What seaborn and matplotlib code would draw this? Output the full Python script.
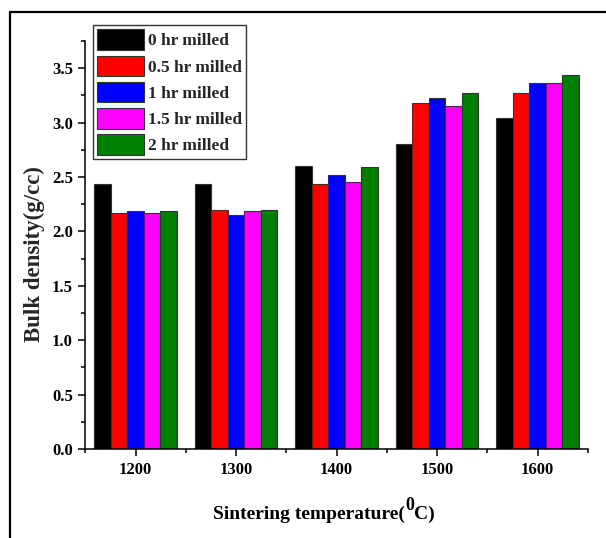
import matplotlib
matplotlib.use("Agg")
import matplotlib.pyplot as plt
from matplotlib.lines import Line2D
from matplotlib.ticker import FixedLocator
from matplotlib.offsetbox import TextArea, HPacker, VPacker, DrawingArea, AnchoredOffsetbox
import seaborn as sns
import pandas as pd

temperatures = ["1200", "1300", "1400", "1500", "1600"]
series_names = ["0 hr milled", "0.5 hr milled", "1 hr milled", "1.5 hr milled", "2 hr milled"]
mill_0 = [2.44, 2.44, 2.60, 2.80, 3.04]
mill_05 = [2.17, 2.20, 2.44, 3.18, 3.27]
mill_1 = [2.19, 2.155, 2.52, 3.23, 3.36]
mill_15 = [2.165, 2.19, 2.45, 3.155, 3.365]
mill_2 = [2.19, 2.20, 2.595, 3.27, 3.44]
colors = ["#000000", "#FF0000", "#0000FF", "#FF00FF", "#008000"]

rows = []
for name, vals in zip(series_names, [mill_0, mill_05, mill_1, mill_15, mill_2]):
    for t, v in zip(temperatures, vals):
        rows.append({"temp": t, "density": v, "series": name})
df = pd.DataFrame(rows)

sns.set_style("ticks")
plt.rcParams["font.family"] = ["Liberation Serif", "DejaVu Serif"]
plt.rcParams["font.weight"] = "bold"

fig = plt.figure(figsize=(6.06, 5.38), dpi=100)
ax = fig.add_axes([0.141, 0.1654, 0.829, 0.7584])

sns.barplot(data=df, x="temp", y="density", hue="series", order=temperatures,
            hue_order=series_names, palette=colors, saturation=1, width=0.82,
            edgecolor="#333333", linewidth=0.8, errorbar=None, ax=ax)

ax.set_xlim(-0.5, 4.5)
ax.set_ylim(0, 3.75)
ax.yaxis.set_major_locator(FixedLocator([0, 0.5, 1.0, 1.5, 2.0, 2.5, 3.0, 3.5]))
ax.yaxis.set_minor_locator(FixedLocator([0.25, 0.75, 1.25, 1.75, 2.25, 2.75, 3.25, 3.75]))
ax.set_yticklabels(["0.0", "0.5", "1.0", "1.5", "2.0", "2.5", "3.0", "3.5"])
ax.xaxis.set_minor_locator(FixedLocator([-0.5, 0.5, 1.5, 2.5, 3.5, 4.5]))

for s in ["top", "right"]:
    ax.spines[s].set_visible(False)
for s in ["left", "bottom"]:
    ax.spines[s].set_linewidth(1.1)
    ax.spines[s].set_color("black")

ax.tick_params(axis="both", which="major", length=5, width=1.1, direction="out",
               labelsize=12, colors="black", pad=4)
ax.tick_params(axis="both", which="minor", length=3, width=1.1, direction="out", colors="black")
for lbl in ax.get_xticklabels() + ax.get_yticklabels():
    lbl.set_fontweight("bold")

# x label built from pieces so the superscript stays large, as in the original
ax.set_xlabel("")
tp = dict(fontsize=14, fontweight="bold", color="black", family=["Liberation Serif", "DejaVu Serif"])
part1 = TextArea("Sintering temperature(", textprops=tp)
sup = VPacker(children=[TextArea("0", textprops=dict(tp, fontsize=13)), DrawingArea(1, 6)],
              align="center", pad=0, sep=0)
part3 = TextArea("C)", textprops=tp)
xlab = HPacker(children=[part1, sup, part3], align="bottom", pad=0, sep=0)
anch = AnchoredOffsetbox(loc="center", child=xlab, frameon=False, pad=0, borderpad=0,
                         bbox_to_anchor=(324 / 606, 1 - 510 / 538),
                         bbox_transform=fig.transFigure)
fig.add_artist(anch)

ax.set_ylabel("Bulk density(g/cc)", fontsize=16.5, fontweight="bold")
ax.yaxis.set_label_coords(-0.08, 0.478)

leg = ax.legend(loc="upper left", bbox_to_anchor=(0.015, 1.039), borderaxespad=0,
                fontsize=12.5, frameon=True, fancybox=False, handlelength=2.7,
                handleheight=1.45, labelspacing=0.32, handletextpad=0.2,
                borderpad=0.25, title=None)
leg.get_frame().set_edgecolor("black")
leg.get_frame().set_linewidth(1.0)
for t in leg.get_texts():
    t.set_fontweight("bold")

fig.add_artist(Line2D([9.5 / 606, 1.0], [1 - 11.5 / 538, 1 - 11.5 / 538],
                      transform=fig.transFigure, color="black", lw=1.6))
fig.add_artist(Line2D([9.5 / 606, 9.5 / 606], [0, 1 - 11.5 / 538],
                      transform=fig.transFigure, color="black", lw=1.6))

fig.savefig("out.png", dpi=100)
